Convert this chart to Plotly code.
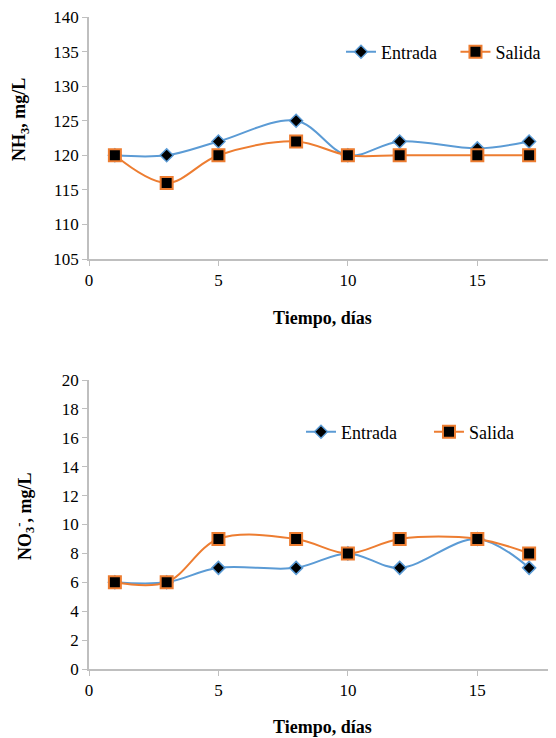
import plotly.graph_objects as go

dias = [1, 3, 5, 8, 10, 12, 15, 17]
nh3_entrada = [120, 120, 122, 125, 120, 122, 121, 122]
nh3_salida = [120, 116, 120, 122, 120, 120, 120, 120]
no3_entrada = [6, 6, 7, 7, 8, 7, 9, 7]
no3_salida = [6, 6, 9, 9, 8, 9, 9, 8]
serie_nombres = ["Entrada", "Salida"]

BLUE = "#5B9BD5"
ORANGE = "#ED7D31"
FONT = "Liberation Serif, Times New Roman, serif"

fig = go.Figure()

def add_pair(xa, ya, ent, sal, legend, pad):
    fig.add_trace(go.Scatter(
        x=dias, y=ent, name=serie_nombres[0] + pad, mode="lines+markers",
        line=dict(color=BLUE, width=2, shape="spline"),
        marker=dict(symbol="diamond", size=10, color="black", line=dict(color=BLUE, width=1.5)),
        xaxis=xa, yaxis=ya, legend=legend))
    fig.add_trace(go.Scatter(
        x=dias, y=sal, name=serie_nombres[1], mode="lines+markers",
        line=dict(color=ORANGE, width=2, shape="spline"),
        marker=dict(symbol="square", size=12, color="black", line=dict(color=ORANGE, width=2)),
        xaxis=xa, yaxis=ya, legend=legend))

add_pair("x", "y", nh3_entrada, nh3_salida, "legend", "\u00a0" * 3)
add_pair("x2", "y2", no3_entrada, no3_salida, "legend2", "\u00a0" * 6)

OFF = 8  # page body margin
W, H = 556 - OFF, 738 - OFF
def py(p):
    return 1 - (p - OFF) / H
def px(p):
    return (p - OFF) / W

axis_common = dict(showline=True, linecolor="#BFBFBF", linewidth=1.5, ticks="outside",
                   tickcolor="#BFBFBF", ticklen=5, showgrid=False, zeroline=False,
                   ticklabeloverflow="allow",
                   tickfont=dict(family=FONT, size=17, color="black"), automargin=False)

legend_common = dict(orientation="h", yanchor="middle", xanchor="left",
                     font=dict(family=FONT, size=18, color="black"), bgcolor="rgba(0,0,0,0)")

fig.update_layout(
    width=W, height=H, margin=dict(l=0, r=0, t=0, b=0),
    plot_bgcolor="white", paper_bgcolor="white",
    showlegend=True,
    xaxis=dict(domain=[px(89), px(555)], range=[0, 18], tickvals=[0, 5, 10, 15], anchor="y", **axis_common),
    yaxis=dict(domain=[py(259), py(17)], range=[105, 140], dtick=5, anchor="x", **axis_common),
    xaxis2=dict(domain=[px(89), px(555)], range=[0, 18], tickvals=[0, 5, 10, 15], anchor="y2", **axis_common),
    yaxis2=dict(domain=[py(669), py(380)], range=[0, 20], dtick=2, anchor="x2", **axis_common),
    legend=dict(x=px(341), y=py(52), **legend_common),
    legend2=dict(x=px(301), y=py(432), **legend_common),
)

title_font = dict(family=FONT, size=18, color="black")
fig.add_annotation(text="<b>Tiempo, días</b>", x=px(322), y=py(318), xref="paper", yref="paper",
                   showarrow=False, font=title_font, xanchor="center", yanchor="middle")
fig.add_annotation(text="<b>Tiempo, días</b>", x=px(322), y=py(727), xref="paper", yref="paper",
                   showarrow=False, font=title_font, xanchor="center", yanchor="middle")
fig.add_annotation(text="<b>NH<sub>3</sub>, mg/L</b>", x=px(20), y=py(120), xref="paper", yref="paper",
                   showarrow=False, font=title_font, textangle=-90, xanchor="center", yanchor="middle")
fig.add_annotation(text="<b>NO<sub>3</sub><sup>-</sup>, mg/L</b>", x=px(24), y=py(516), xref="paper", yref="paper",
                   showarrow=False, font=title_font, textangle=-90, xanchor="center", yanchor="middle")

fig.write_html("out.html")
